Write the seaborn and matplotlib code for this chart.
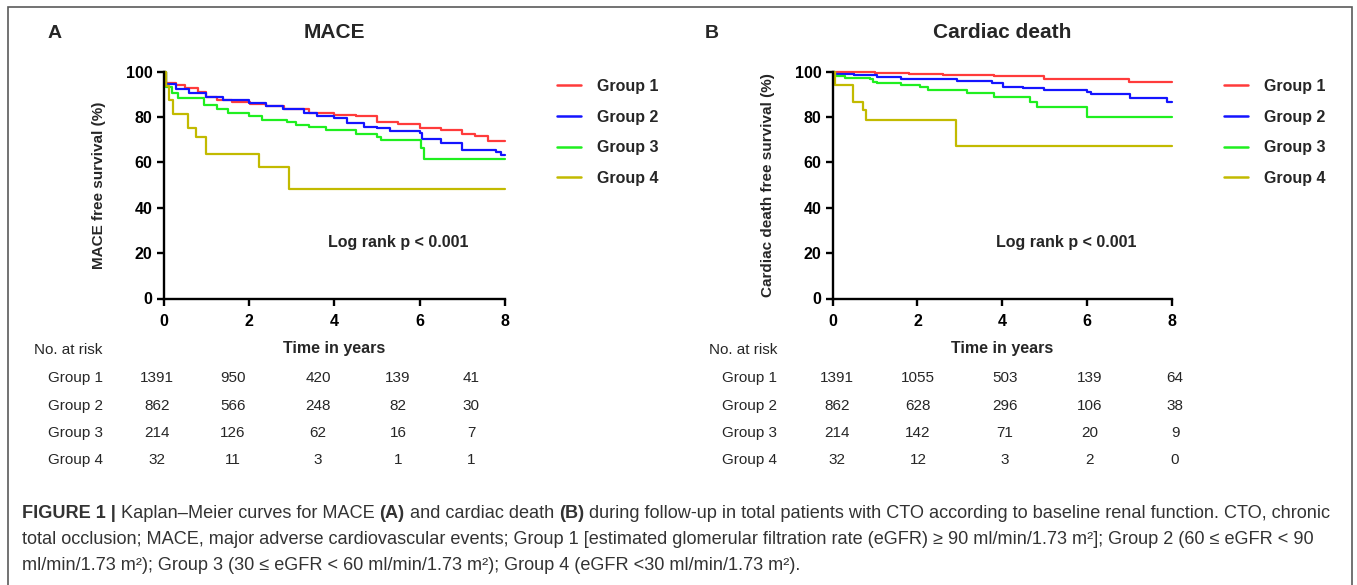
import numpy as np
import pandas as pd
import matplotlib
matplotlib.use("Agg")
import matplotlib.pyplot as plt
import seaborn as sns
from matplotlib.patches import Rectangle

# ---------------- data ----------------
groups = ["Group 1", "Group 2", "Group 3", "Group 4"]
colors = ["#ff3b3b", "#1414ff", "#1fef1f", "#c2ba00"]

# MACE (panel A)
mace_g1_t = [0, 0.06, 0.3, 0.5, 0.8, 1.0, 1.25, 1.6, 2.03, 2.4, 2.82, 3.4, 4.0, 4.5, 5.0, 5.5, 6.0, 6.5, 7.0, 7.3, 7.6, 8.0]
mace_g1_s = [100, 94.9, 94.1, 92.6, 91.2, 89.0, 87.6, 86.8, 85.7, 84.7, 83.4, 81.8, 81.0, 80.3, 77.9, 76.8, 75.3, 74.3, 72.6, 71.5, 69.4, 69.4]
mace_g2_t = [0, 0.05, 0.3, 0.6, 1.0, 1.4, 2.0, 2.4, 2.8, 3.3, 3.6, 4.0, 4.3, 4.7, 5.0, 5.3, 6.0, 6.05, 6.5, 7.0, 7.8, 7.9, 8.0]
mace_g2_s = [100, 94.6, 92.5, 90.5, 89.0, 87.6, 86.3, 85.0, 83.7, 81.8, 80.5, 79.4, 77.5, 75.7, 75.0, 73.8, 72.8, 70.3, 68.4, 65.4, 64.5, 63.2, 63.2]
mace_g3_t = [0, 0.05, 0.2, 0.35, 0.9, 0.95, 1.25, 1.5, 2.0, 2.3, 2.9, 3.1, 3.4, 3.8, 4.5, 5.0, 5.1, 6.0, 6.03, 6.1, 8.0]
mace_g3_s = [100, 93.4, 90.4, 88.5, 88.2, 85.3, 83.5, 82.0, 80.5, 78.7, 77.9, 76.5, 75.7, 74.3, 72.5, 71.0, 70.1, 70.1, 66.2, 61.3, 61.3]
mace_g4_t = [0, 0.06, 0.14, 0.22, 0.57, 0.77, 1.0, 2.23, 2.94, 8.0]
mace_g4_s = [100, 93.8, 87.5, 81.3, 75.0, 71.3, 63.7, 57.9, 48.1, 48.1]

# Cardiac death (panel B)
cd_g1_t = [0, 0.3, 1.0, 1.8, 2.6, 3.8, 4.98, 5.5, 7.0, 8.0]
cd_g1_s = [100, 99.7, 99.3, 99.0, 98.5, 98.2, 96.8, 96.6, 95.6, 95.6]
cd_g2_t = [0, 0.05, 0.5, 1.04, 1.6, 2.06, 2.93, 3.76, 4.03, 4.5, 4.98, 6.0, 6.1, 7.02, 7.9, 8.0]
cd_g2_s = [100, 99.0, 98.5, 97.5, 97.0, 96.6, 95.9, 95.1, 93.4, 93.0, 91.9, 90.9, 90.0, 88.5, 86.8, 86.8]
cd_g3_t = [0, 0.05, 0.3, 0.88, 0.95, 1.04, 1.6, 2.06, 2.26, 3.17, 3.8, 4.66, 4.82, 6.0, 8.0]
cd_g3_s = [100, 98.0, 97.2, 97.0, 95.5, 94.9, 94.2, 93.4, 91.9, 90.4, 89.0, 86.8, 84.3, 80.1, 80.1]
cd_g4_t = [0, 0.05, 0.49, 0.71, 0.79, 2.9, 8.0]
cd_g4_s = [100, 94.1, 86.8, 83.1, 78.7, 67.4, 67.4]

# number at risk
risk_times = [0, 2, 4, 6, 8]
mace_risk = [[1391, 950, 420, 139, 41],
             [862, 566, 248, 82, 30],
             [214, 126, 62, 16, 7],
             [32, 11, 3, 1, 1]]
cd_risk = [[1391, 1055, 503, 139, 64],
           [862, 628, 296, 106, 38],
           [214, 142, 71, 20, 9],
           [32, 12, 3, 2, 0]]

x_ticks = [0, 2, 4, 6, 8]
y_ticks = [0, 20, 40, 60, 80, 100]

def long_df(series):
    rows = []
    for g, (t, s) in zip(groups, series):
        for ti, si in zip(t, s):
            rows.append((g, ti, si))
    return pd.DataFrame(rows, columns=["group", "time", "surv"])

df_mace = long_df([(mace_g1_t, mace_g1_s), (mace_g2_t, mace_g2_s),
                   (mace_g3_t, mace_g3_s), (mace_g4_t, mace_g4_s)])
df_cd = long_df([(cd_g1_t, cd_g1_s), (cd_g2_t, cd_g2_s),
                 (cd_g3_t, cd_g3_s), (cd_g4_t, cd_g4_s)])

# ---------------- figure ----------------
sns.set_theme(style="ticks")
plt.rcParams["font.family"] = ["Liberation Sans", "DejaVu Sans"]

W, H = 1357, 585
fig = plt.figure(figsize=(W / 100, H / 100), dpi=100)

def fx(px):
    return px / W

def fy(py):
    return 1 - py / H

palette = dict(zip(groups, colors))

panels = [
    dict(df=df_mace, x0=163.5, x1=505, letter="A", lx=55, title="MACE", ylabel="MACE free survival (%)",
         ylx=106, leg_x=557, risk=mace_risk, risk_x=[157, 233, 318, 398, 471], lab_x=75, nar_x=68, lr_x=398),
    dict(df=df_cd, x0=832.7, x1=1171.7, letter="B", lx=712, title="Cardiac death",
         ylabel="Cardiac death free survival (%)", ylx=775, leg_x=1224, risk=cd_risk,
         risk_x=[837, 918, 1005, 1090, 1175], lab_x=750, nar_x=743, lr_x=1066),
]

y_top, y_bot = 71.7, 298.5
for p in panels:
    ax = fig.add_axes([fx(p["x0"]), fy(y_bot), fx(p["x1"] - p["x0"]), (y_bot - y_top) / H])
    sns.lineplot(data=p["df"], x="time", y="surv", hue="group", palette=palette,
                 drawstyle="steps-post", estimator=None, sort=False, linewidth=1.6,
                 ax=ax, legend=True)
    for ln in ax.get_lines():
        ln.set_clip_on(False)
    ax.set_xlim(0, 8)
    ax.set_ylim(0, 100)
    ax.set_xticks(x_ticks)
    ax.set_yticks(y_ticks)
    for s in ["top", "right"]:
        ax.spines[s].set_visible(False)
    for s in ["left", "bottom"]:
        ax.spines[s].set_linewidth(1.7)
        ax.spines[s].set_color("black")
    ax.tick_params(axis="both", direction="out", length=5, width=1.7, colors="black",
                   labelsize=11.5, pad=3)
    ax.tick_params(axis="x", pad=6)
    for lab in ax.get_xticklabels() + ax.get_yticklabels():
        lab.set_fontweight("bold")
    ax.set_xlabel("Time in years", fontsize=11.5, fontweight="bold", labelpad=9)
    ax.set_ylabel(p["ylabel"], fontsize=11, fontweight="bold")
    ax.yaxis.set_label_coords(fx(p["ylx"] - p["x0"]) / fx(p["x1"] - p["x0"]), 0.5)
    ax.set_facecolor("white")
    leg = ax.legend(loc="upper left", bbox_to_anchor=(fx(p["leg_x"]), fy(79)),
                    bbox_transform=fig.transFigure, frameon=False, fontsize=11.5,
                    handlelength=1.5, handletextpad=1.0, labelspacing=0.98,
                    borderpad=0, borderaxespad=0)
    for t in leg.get_texts():
        t.set_fontweight("bold")
    for h in leg.get_lines():
        h.set_linewidth(1.8)

    fig.text(fx(p["lx"]), fy(33), p["letter"], fontsize=14, fontweight="bold", ha="center", va="center")
    fig.text(fx((p["x0"] + p["x1"]) / 2), fy(33), p["title"], fontsize=15, fontweight="bold",
             ha="center", va="center")
    fig.text(fx(p["lr_x"]), fy(242), "Log rank p < 0.001", fontsize=11.5, fontweight="bold",
             ha="center", va="center")

    # number at risk table
    fig.text(fx(p["nar_x"]), fy(350), "No. at risk", fontsize=11, ha="center", va="center")
    row_y = [378, 406, 433, 460]
    for gi, g in enumerate(groups):
        fig.text(fx(p["lab_x"]), fy(row_y[gi]), g, fontsize=11, ha="center", va="center")
        for ci, val in enumerate(p["risk"][gi]):
            fig.text(fx(p["risk_x"][ci]), fy(row_y[gi]), str(val), fontsize=11,
                     ha="center", va="center")

# frame
fig.patches.append(Rectangle((fx(8), -0.05), fx(1352 - 8), fy(7) + 0.05, transform=fig.transFigure,
                             fill=False, edgecolor="#5a5a5a", linewidth=1.2, zorder=10))

# caption with mixed bold text
cap_color = "#333333"
cap_fs = 13.05
renderer = fig.canvas.get_renderer()

def write_line(pieces, px, py):
    x = fx(px)
    for txt, bold in pieces:
        t = fig.text(x, fy(py), txt, fontsize=cap_fs, color=cap_color, ha="left", va="center",
                     fontweight="bold" if bold else "normal")
        bb = t.get_window_extent(renderer=renderer)
        x += bb.width / W

write_line([("FIGURE 1 |", True), (" Kaplan\u2013Meier curves for MACE ", False), ("(A)", True),
            (" and cardiac death ", False), ("(B)", True),
            (" during follow-up in total patients with CTO according to baseline renal function. CTO, chronic", False)],
           22, 513)
write_line([("total occlusion; MACE, major adverse cardiovascular events; Group 1 [estimated glomerular filtration rate (eGFR) \u2265 90 ml/min/1.73 m\u00b2]; Group 2 (60 \u2264 eGFR < 90", False)],
           22, 540)
write_line([("ml/min/1.73 m\u00b2); Group 3 (30 \u2264 eGFR < 60 ml/min/1.73 m\u00b2); Group 4 (eGFR <30 ml/min/1.73 m\u00b2).", False)],
           22, 566)

fig.savefig("out.png", dpi=100, facecolor="white")
